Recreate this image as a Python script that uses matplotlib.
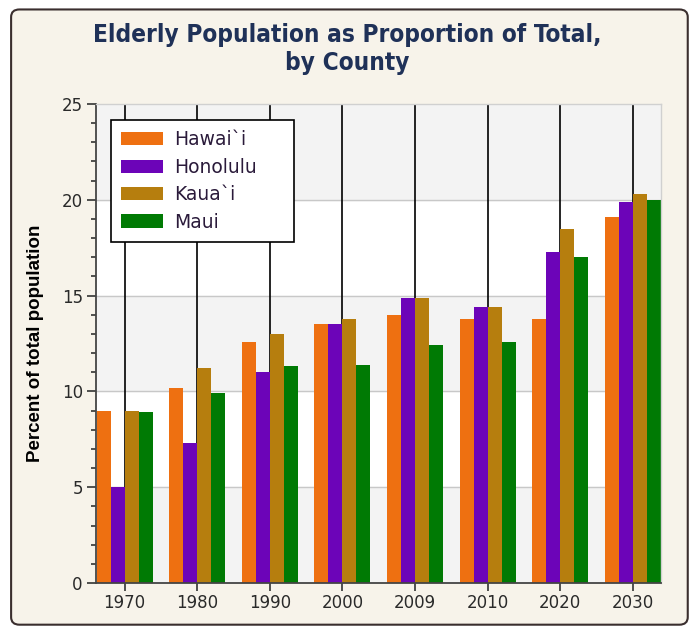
import numpy as np
import matplotlib.pyplot as plt
from matplotlib.patches import FancyBboxPatch

years = ['1970', '1980', '1990', '2000', '2009', '2010', '2020', '2030']
counties = ['Hawai`i', 'Honolulu', 'Kaua`i', 'Maui']
hawaii = [9.0, 10.2, 12.6, 13.5, 14.0, 13.8, 13.8, 19.1]
honolulu = [5.0, 7.3, 11.0, 13.5, 14.9, 14.4, 17.3, 19.9]
kauai = [9.0, 11.2, 13.0, 13.8, 14.9, 14.4, 18.5, 20.3]
maui = [8.9, 9.9, 11.3, 11.4, 12.4, 12.6, 17.0, 20.0]
colors = ['#ee7011', '#6c04b8', '#b67e0e', '#007a04']

fig = plt.figure(figsize=(6.94, 6.31), dpi=100)
fig.patch.set_facecolor('white')

# rounded beige frame
frame = FancyBboxPatch((0.016, 0.01), 0.975, 0.975, boxstyle='round,pad=0,rounding_size=0.012',
                       transform=fig.transFigure, facecolor='#f7f3ea', edgecolor='#3a2e2e',
                       lw=1.5, zorder=-5)
fig.patches.append(frame)

ax = fig.add_axes([0.1383, 0.0761, 0.8141, 0.7591])
ax.set_facecolor('white')

# alternating bands
for lo in range(0, 25, 10):
    ax.axhspan(lo, lo + 5, color='#f3f3f3', zorder=0)
ax.axhspan(20, 25, color='#f3f3f3', zorder=0)
for v in [5, 10, 15, 20]:
    ax.axhline(v, color='#c8c8c8', lw=1, zorder=1)

x = np.arange(len(years))
for xi in x:
    ax.axvline(xi, color='black', lw=1.2, zorder=1)

w = 0.193
series = [hawaii, honolulu, kauai, maui]
for i, (vals, c, lab) in enumerate(zip(series, colors, counties)):
    ax.bar(x + (i - 1.5) * w, vals, width=w, color=c, label=lab, zorder=2)

ax.set_xlim(-0.395, 7.39)
ax.set_ylim(0, 25)
ax.set_yticks([0, 5, 10, 15, 20, 25])
ax.set_yticks(np.arange(0, 25, 1), minor=True)
ax.set_xticks(x)
ax.set_xticklabels(years)
ax.tick_params(axis='y', which='major', length=6.5, width=1.2, color='#333333', labelsize=12, pad=3)
ax.tick_params(axis='y', which='minor', length=3.6, width=1.2, color='#333333')
ax.tick_params(axis='x', length=6, width=1.2, color='#333333', labelsize=12, pad=2)
for lbl in ax.get_xticklabels() + ax.get_yticklabels():
    lbl.set_fontfamily('DejaVu Sans')
    lbl.set_color('#2a2a2a')

for s in ['left', 'bottom']:
    ax.spines[s].set_color('#444444')
    ax.spines[s].set_linewidth(1.3)
for s in ['top', 'right']:
    ax.spines[s].set_color('#d0d0d0')
    ax.spines[s].set_linewidth(1)

ax.set_ylabel('Percent of total population', fontsize=13.5, fontweight='bold',
              fontfamily='Liberation Sans')
ax.yaxis.set_label_coords(-0.092, 0.5)

leg = ax.legend(loc='upper left', bbox_to_anchor=(0.0265, 0.7077, 0.3235, 0.2589),
                mode='expand', borderaxespad=0, fontsize=13.5,
                frameon=True, fancybox=False, handlelength=2.2, handleheight=0.7,
                borderpad=0.55, labelspacing=0.45, handletextpad=0.6)
leg.get_frame().set_edgecolor('black')
leg.get_frame().set_linewidth(1.2)
leg.get_frame().set_facecolor('white')
leg.get_frame().set_alpha(1)
for t in leg.get_texts():
    t.set_color('#2a1a3a')

fig.text(0.5, 0.922, 'Elderly Population as Proportion of Total,\nby County', ha='center', va='center',
         fontsize=17.5, fontweight='bold', color='#1f3158', fontfamily='DejaVu Sans',
         fontstretch='condensed', linespacing=1.2)

fig.savefig('out.png', dpi=100, facecolor=fig.get_facecolor())
